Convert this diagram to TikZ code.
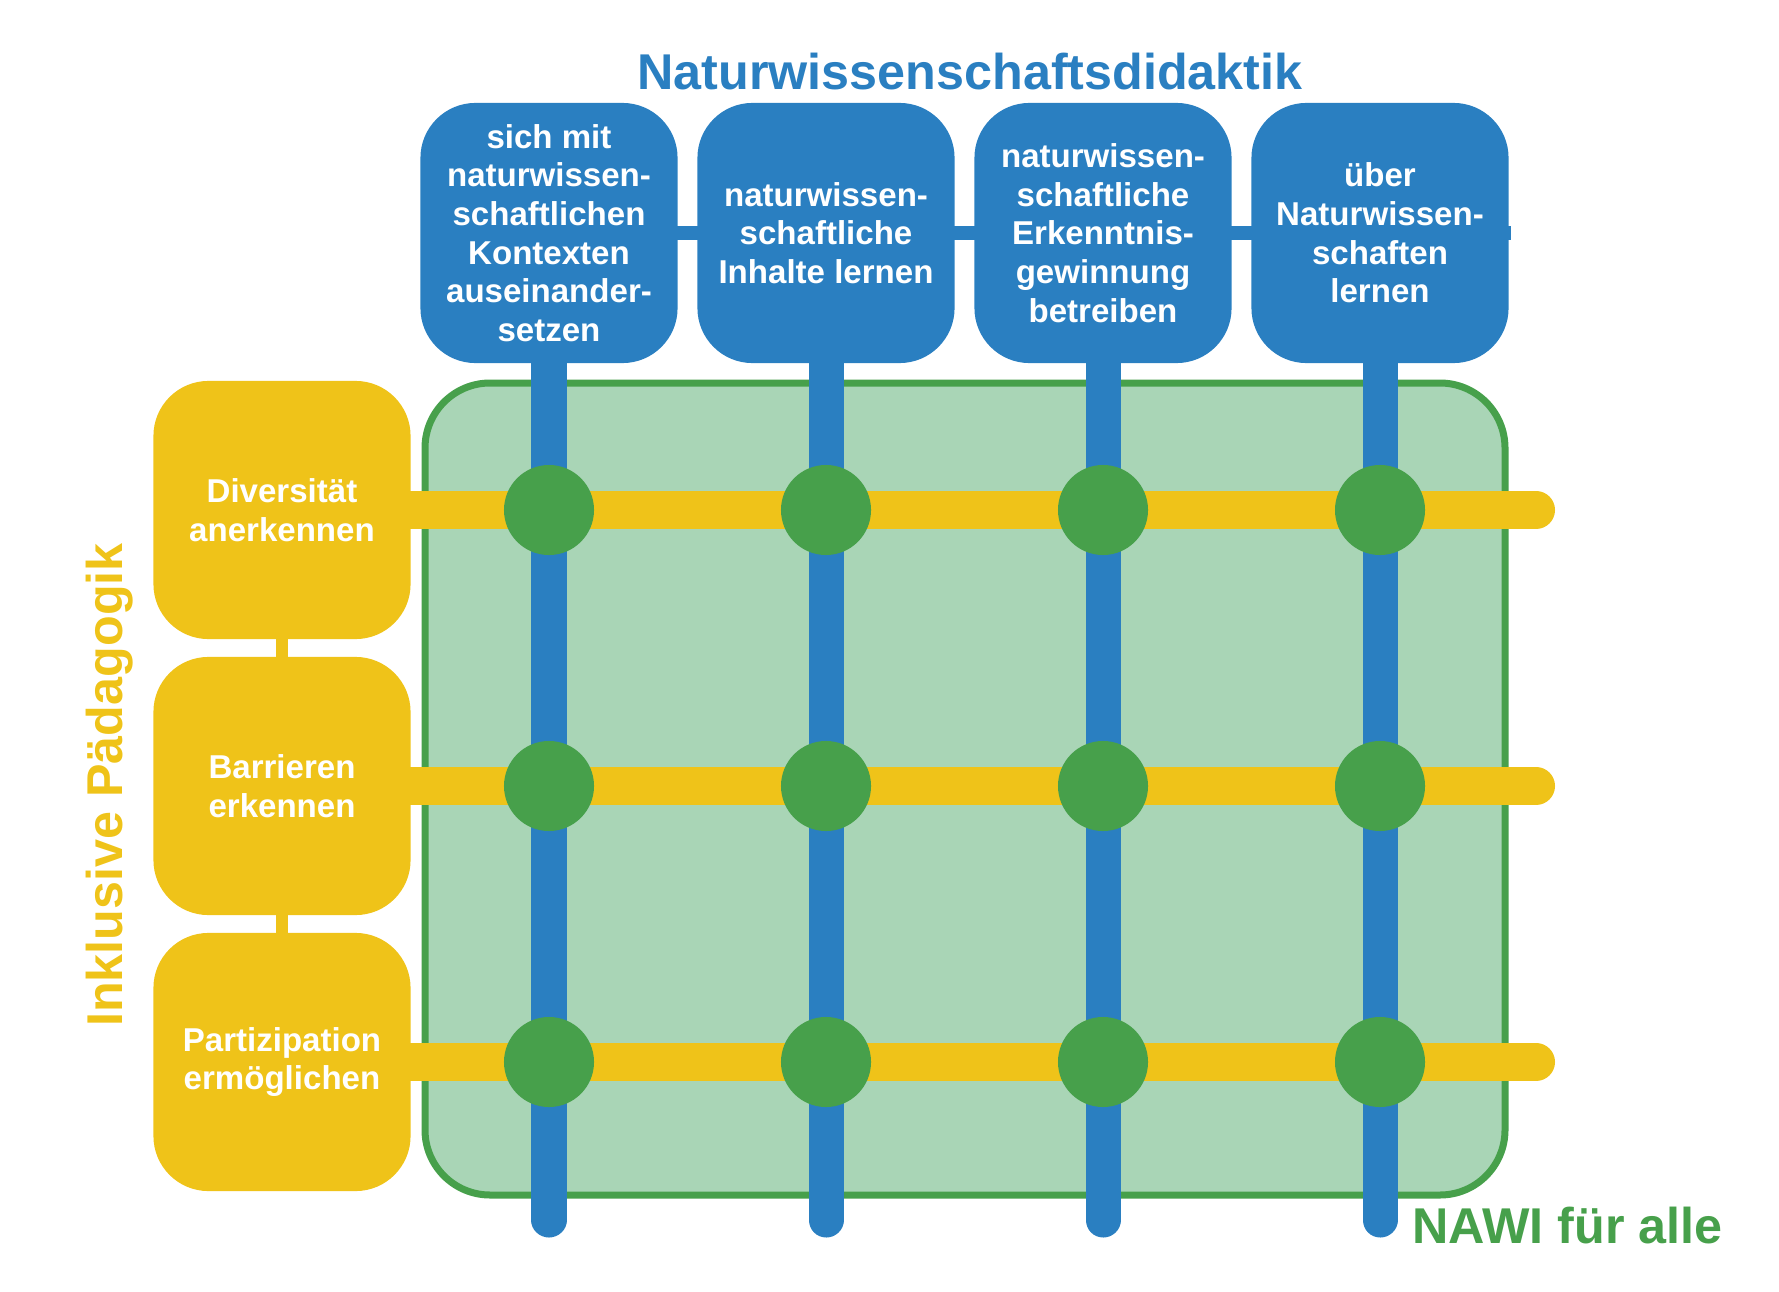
\documentclass[tikz,border=0pt]{standalone}
\usepackage{fontspec}
\setmainfont{Liberation Sans}
\usepackage{tikz}
\definecolor{didaktikblue}{HTML}{2A7FC1}
\definecolor{inklusivyellow}{HTML}{EFC319}
\definecolor{nawigreen}{HTML}{47A04B}
\definecolor{nawilight}{HTML}{A9D5B6}
\newcommand{\headfont}{\fontsize{14.3}{16}\selectfont\bfseries}
\newcommand{\boxfont}{\fontsize{9.4}{11}\selectfont\bfseries}
\pgfdeclarelayer{background}
\pgfsetlayers{background,main}
\tikzset{
    topbox/.style={fill=didaktikblue, rounded corners=0.55cm, minimum width=2.57cm,
        minimum height=2.6cm, inner sep=0pt, text=white, align=center, font=\boxfont},
    sidebox/.style={fill=inklusivyellow, rounded corners=0.55cm, minimum width=2.57cm,
        minimum height=2.58cm, inner sep=0pt, text=white, align=center, font=\boxfont},
    knot/.style={circle, fill=nawigreen, minimum size=0.9cm, inner sep=0pt},
    bluebar/.style={didaktikblue, line width=0.35cm, line cap=round},
    yellowbar/.style={inklusivyellow, line width=0.38cm, line cap=round}
}
\begin{document}
\begin{tikzpicture}[x=0.01cm, y=-0.01cm]
    \useasboundingbox (0,0) rectangle (1779,1291);

    % Title on top
    \node[anchor=base, text=didaktikblue, font=\headfont] (title) at (970,90) {Naturwissenschaftsdidaktik};

    % Blue boxes in a row
    \foreach \i/\x/\txt in {1/549/{sich mit\\naturwissen-\\schaftlichen\\Kontexten\\auseinander-\\setzen},
        2/826/{naturwissen-\\schaftliche\\Inhalte lernen},
        3/1103/{naturwissen-\\schaftliche\\Erkenntnis-\\gewinnung\\betreiben},
        4/1380/{über\\Naturwissen-\\schaften\\lernen}} {
        \node[topbox] (b\i) at (\x,233) {\txt};
        \coordinate (bb\i) at (\x,1220);
    }

    % Yellow boxes in a column
    \foreach \j/\y/\txt in {1/510/{Diversität\\anerkennen},
        2/786/{Barrieren\\erkennen},
        3/1062/{Partizipation\\ermöglichen}} {
        \node[sidebox] (y\j) at (282,\y) {\txt};
        \coordinate (ye\j) at (1536,\y);
    }

    % Green knots where the bars cross
    \foreach \i in {1,...,4}
    \foreach \j in {1,...,3}
    \node[knot] (k\i\j) at (b\i |- y\j) {};

    % Side labels
    \node[rotate=90, anchor=base, text=inklusivyellow, font=\headfont] (inklusiv) at (122,785) {Inklusive Pädagogik};
    \node[anchor=base west, text=nawigreen, font=\headfont] (nawi) at (1400,1243) {NAWI für alle};

    \begin{pgfonlayer}{background}
        % Green field
        \draw[nawigreen, line width=0.07cm, fill=nawilight, rounded corners=0.65cm] (425,383) rectangle (1505,1195);

        % Links between the boxes
        \draw[didaktikblue, line width=0.14cm] (b1.center) -- ([xshift=0.015cm]b4.east);
        \draw[inklusivyellow, line width=0.12cm] (y1.center) -- (y3.center);

        % Bars
        \foreach \i in {1,...,4}
        \draw[bluebar] (b\i.center) -- (bb\i);
        \foreach \j in {1,...,3}
        \draw[yellowbar] (y\j.center) -- (ye\j);
    \end{pgfonlayer}
\end{tikzpicture}
\end{document}
